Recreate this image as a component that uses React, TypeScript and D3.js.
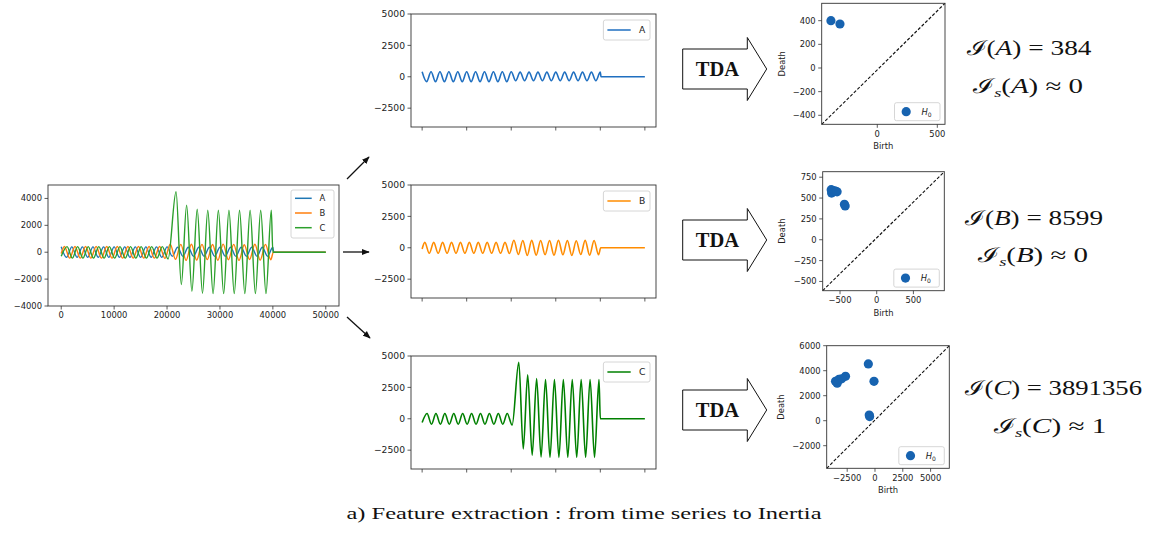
import React from 'react';
import * as d3 from 'd3';

// ---------- Data (extrema) ----------
const A_TIMES = [0, 1000, 2000, 3000, 4000, 5000, 6000, 7000, 8000, 9000, 10000, 11000, 12000, 13000, 14000, 15000, 16000, 17000, 18000, 19000, 20000, 21000, 22000, 23000, 24000, 25000, 26000, 27000, 28000, 29000, 30000, 31000, 32000, 33000, 34000, 35000, 36000, 37000, 38000, 39000, 40000, 40150, 50000];
const A_VALUES = [400, -386, 400, -386, 400, -386, 400, -386, 400, -386, 400, -386, 400, -386, 400, -386, 400, -386, 400, -386, 400, -311, 372, -311, 372, -311, 372, -311, 372, -311, 372, -311, 372, -311, 372, -311, 372, -311, 372, -311, 372, 0, 0];

const B_TIMES = [0, 600, 1600, 2600, 3600, 4600, 5600, 6600, 7600, 8600, 9600, 10600, 11600, 12600, 13600, 14600, 15600, 16600, 17600, 18600, 19600, 20600, 21600, 22600, 23600, 24600, 25600, 26600, 27600, 28600, 29600, 30600, 31600, 32600, 33600, 34600, 35600, 36600, 37600, 38600, 39600, 40100, 50000];
const B_VALUES = [-100, 430, -440, 430, -440, 430, -440, 430, -440, 430, -440, 430, -440, 430, -440, 430, -440, 430, -440, 430, -460, 600, -530, 580, -610, 590, -590, 585, -550, 575, -600, 600, -560, 580, -610, 555, -540, 590, -590, 580, -560, 0, 0];

const C_TIMES = [0, 1100, 2100, 3100, 4100, 5100, 6100, 7100, 8100, 9100, 10100, 11100, 12100, 13100, 14100, 15100, 16100, 17100, 18100, 19100, 20200, 21700, 22700, 23700, 24700, 25700, 26700, 27700, 28700, 29700, 30700, 31700, 32700, 33700, 34700, 35700, 36700, 37700, 38700, 39700, 40000, 50000];
const C_VALUES = [-300, 420, -440, 420, -440, 420, -440, 420, -440, 420, -440, 420, -440, 420, -440, 420, -440, 420, -440, 420, -500, 4500, -2400, 3500, -2900, 3200, -3050, 3120, -3080, 3120, -3080, 3120, -3080, 3120, -3080, 3120, -3080, 3120, -3080, 3120, 0, 0];

const SERIES_NAMES = ['A', 'B', 'C'];
const TS_X_TICKS = [0, 10000, 20000, 30000, 40000, 50000];
const LEFT_Y_TICKS = [-4000, -2000, 0, 2000, 4000];
const MID_Y_TICKS = [-2500, 0, 2500, 5000];
const TS_X_DOMAIN = [-2500, 52500];
const TS_Y_DOMAIN = [-4000, 5000];

// persistence diagrams (birth, death)
const PD_A_BIRTH = [-386, -311];
const PD_A_DEATH = [400, 372];
const PD_B_BIRTH = [-620, -615, -600, -575, -555, -540, -440, -430];
const PD_B_DEATH = [600, 560, 590, 585, 580, 575, 425, 405];
const PD_C_BIRTH = [-600, -90, -2650, -3550, -3400, -3250, -3000, -520, -480];
const PD_C_DEATH = [4540, 3150, 3550, 3150, 3000, 3300, 3350, 450, 330];

const PD_A_XDOM = [-463, 564];
const PD_A_YDOM = [-476, 547];
const PD_A_XTICKS = [0, 500];
const PD_A_YTICKS = [-400, -200, 0, 200, 400];
const PD_B_XDOM = [-736, 921];
const PD_B_YDOM = [-611, 816];
const PD_B_XTICKS = [-500, 0, 500];
const PD_B_YTICKS = [-500, -250, 0, 250, 500, 750];
const PD_C_XDOM = [-4343, 6682];
const PD_C_YDOM = [-3808, 6000];
const PD_C_XTICKS = [-2500, 0, 2500, 5000];
const PD_C_YTICKS = [-2000, 0, 2000, 4000, 6000];

const INERTIA = ['384', '8599', '3891356'];
const INERTIA_S = ['0', '0', '1'];

const SANS = '"DejaVu Sans", sans-serif';
const SERIF = '"Liberation Serif", "DejaVu Serif", serif';
const fmt = d3.format('d');

type S = { name: string; times: number[]; values: number[]; color: string };

function TimeAxes(props: any) {
  const { left, top, width, height, series, yTicks, xLabels, fs, legend, lw } = props;
  const x = d3.scaleLinear().domain(TS_X_DOMAIN).range([left, left + width]);
  const y = d3.scaleLinear().domain(TS_Y_DOMAIN).range([top + height, top]);
  const path = (s: S) =>
    d3.line<number>().x((_, i) => x(s.times[i])).y((d) => y(d)).curve(d3.curveMonotoneX)(s.values) || '';
  const lx = left + width - legend.inset - legend.w;
  const ly = top + legend.inset;
  return (
    <g fontFamily={SANS} fill="#222">
      {series.map((s: S) => (
        <path key={s.name} d={path(s)} fill="none" stroke={s.color} strokeWidth={lw} strokeLinejoin="round" />
      ))}
      <rect x={left} y={top} width={width} height={height} fill="none" stroke="#333" strokeWidth={0.9} />
      {yTicks.map((t: number) => (
        <g key={t}>
          <line x1={left - 3.5} x2={left} y1={y(t)} y2={y(t)} stroke="#333" strokeWidth={0.8} />
          <text x={left - 6} y={y(t)} dy="0.35em" textAnchor="end" fontSize={fs}>{fmt(t)}</text>
        </g>
      ))}
      {TS_X_TICKS.map((t) => (
        <g key={t}>
          <line x1={x(t)} x2={x(t)} y1={top + height} y2={top + height + 3.5} stroke="#333" strokeWidth={0.8} />
          {xLabels && (
            <text x={x(t)} y={top + height + 6 + fs * 0.76} textAnchor="middle" fontSize={fs}>{fmt(t)}</text>
          )}
        </g>
      ))}
      <rect x={lx} y={ly} width={legend.w} height={legend.h} rx={2} fill="white" fillOpacity={0.85} stroke="#ccc" strokeWidth={0.8} />
      {series.map((s: S, i: number) => {
        const ry = ly + legend.first + i * legend.row;
        return (
          <g key={s.name}>
            <line x1={lx + legend.l0} x2={lx + legend.l1} y1={ry} y2={ry} stroke={s.color} strokeWidth={1.5} />
            <text x={lx + legend.tx} y={ry} dy="0.35em" fontSize={fs}>{s.name}</text>
          </g>
        );
      })}
    </g>
  );
}

function PD(props: any) {
  const { left, top, width, height, xDom, yDom, xTicks, yTicks, births, deaths, deathX } = props;
  const x = d3.scaleLinear().domain(xDom).range([left, left + width]);
  const y = d3.scaleLinear().domain(yDom).range([top + height, top]);
  const fs = 8.4;
  const color = '#1763b0';
  const lw = 45.5, lh = 18;
  const lx = left + width - 5 - lw;
  const ly = top + height - 3.6 - lh;
  return (
    <g fontFamily={SANS} fill="#222">
      <line x1={x(xDom[0])} y1={y(yDom[0])} x2={x(xDom[1])} y2={y(yDom[1])} stroke="#111" strokeWidth={1.1} strokeDasharray="3.2,1.8" />
      {births.map((b: number, i: number) => (
        <circle key={i} cx={x(b)} cy={y(deaths[i])} r={4.6} fill={color} />
      ))}
      <rect x={left} y={top} width={width} height={height} fill="none" stroke="#333" strokeWidth={0.9} />
      {yTicks.map((t: number) => (
        <g key={t}>
          <line x1={left - 3.5} x2={left} y1={y(t)} y2={y(t)} stroke="#333" strokeWidth={0.8} />
          <text x={left - 6} y={y(t)} dy="0.35em" textAnchor="end" fontSize={fs}>{fmt(t)}</text>
        </g>
      ))}
      {xTicks.map((t: number) => (
        <g key={t}>
          <line x1={x(t)} x2={x(t)} y1={top + height} y2={top + height + 3.5} stroke="#333" strokeWidth={0.8} />
          <text x={x(t)} y={top + height + 6 + fs * 0.76} textAnchor="middle" fontSize={fs}>{fmt(t)}</text>
        </g>
      ))}
      <text x={left + width / 2} y={top + height + 25} textAnchor="middle" fontSize={fs}>Birth</text>
      <text transform={`translate(${deathX},${top + height / 2}) rotate(-90)`} textAnchor="middle" dy="0.35em" fontSize={fs}>Death</text>
      <rect x={lx} y={ly} width={lw} height={lh} rx={2} fill="white" fillOpacity={0.85} stroke="#ccc" strokeWidth={0.8} />
      <circle cx={lx + 11.7} cy={ly + lh / 2} r={4.6} fill={color} />
      <text x={lx + 27} y={ly + lh / 2} dy="0.35em" fontSize={fs} fontStyle="italic">
        H<tspan fontSize={6} fontStyle="normal" dy={2}>0</tspan>
      </text>
    </g>
  );
}

function TdaArrow({ cy }: { cy: number }) {
  const x0 = 682.7, x1 = 747.3, x2 = 766.7;
  const d = `M${x0},${cy - 20} H${x1} V${cy - 31.5} L${x2},${cy} L${x1},${cy + 31.5} V${cy + 20} H${x0} Z`;
  return (
    <g>
      <path d={d} fill="white" stroke="#111" strokeWidth={1} strokeLinejoin="miter" />
      <text x={717.5} y={cy + 7} textAnchor="middle" fontFamily={SERIF} fontWeight="bold" fontSize={20.5} fill="#111">TDA</text>
    </g>
  );
}

function Inertia({ name, cx1, cx2, y1, y2, w1, w2, val, sval }: any) {
  return (
    <g fontFamily={SERIF} fill="#111">
      <text x={cx1} y={y1} textAnchor="middle" fontSize={20.5} textLength={w1} lengthAdjust="spacingAndGlyphs">
        ℐ(<tspan fontStyle="italic">{name}</tspan>) = {val}
      </text>
      <text x={cx2} y={y2} textAnchor="middle" fontSize={20.5} textLength={w2} lengthAdjust="spacingAndGlyphs">
        ℐ<tspan fontStyle="italic" fontSize={13} dy={4}>s</tspan>
        <tspan dy={-4}>(</tspan><tspan fontStyle="italic">{name}</tspan>) ≈ {sval}
      </text>
    </g>
  );
}

export default function App() {
  const tab = ['#1f77b4', '#ff7f0e', '#2ca02c'];
  const mid = ['#1f6fc0', '#ff8c00', '#008000'];
  const allSeries: S[] = [
    { name: SERIES_NAMES[0], times: A_TIMES, values: A_VALUES, color: tab[0] },
    { name: SERIES_NAMES[1], times: B_TIMES, values: B_VALUES, color: tab[1] },
    { name: SERIES_NAMES[2], times: C_TIMES, values: C_VALUES, color: tab[2] },
  ];
  const midSeries: S[] = allSeries.map((s, i) => ({ ...s, color: mid[i] }));
  const leftLegend = { inset: 5, w: 43, h: 48, first: 8.3, row: 14.7, l0: 4, l1: 20.7, tx: 28.5 };
  const midLegend = { inset: 6, w: 46.6, h: 20, first: 10, row: 0, l0: 4, l1: 27.3, tx: 35.5 };
  const midTops = [14, 185, 356];
  const pdA = { xDom: PD_A_XDOM, yDom: PD_A_YDOM, xTicks: PD_A_XTICKS, yTicks: PD_A_YTICKS, births: PD_A_BIRTH, deaths: PD_A_DEATH };
  const pdB = { xDom: PD_B_XDOM, yDom: PD_B_YDOM, xTicks: PD_B_XTICKS, yTicks: PD_B_YTICKS, births: PD_B_BIRTH, deaths: PD_B_DEATH };
  const pdC = { xDom: PD_C_XDOM, yDom: PD_C_YDOM, xTicks: PD_C_XTICKS, yTicks: PD_C_YTICKS, births: PD_C_BIRTH, deaths: PD_C_DEATH };
  return (
    <svg width={1151} height={541} style={{ position: 'absolute', left: 0, top: 0, background: 'white' }}>
      <defs>
        <marker id="ah" viewBox="0 0 10 10" refX="9" refY="5" markerWidth="6" markerHeight="6" orient="auto">
          <path d="M0,1 L10,5 L0,9 Z" fill="#111" />
        </marker>
      </defs>
      <rect x={0} y={0} width={1151} height={541} fill="white" />
      <TimeAxes left={48} top={185} width={291} height={121} series={allSeries} yTicks={LEFT_Y_TICKS} xLabels fs={8.4} legend={leftLegend} lw={1.4} />
      {midSeries.map((s, i) => (
        <TimeAxes key={s.name} left={411} top={midTops[i]} width={245} height={113} series={[s]} yTicks={MID_Y_TICKS} xLabels={false} fs={9.2} legend={midLegend} lw={1.6} />
      ))}
      <line x1={347} y1={179} x2={369} y2={157} stroke="#111" strokeWidth={1.3} markerEnd="url(#ah)" />
      <line x1={343} y1={252} x2={369} y2={252} stroke="#111" strokeWidth={1.3} markerEnd="url(#ah)" />
      <line x1={347} y1={317} x2={370} y2={338} stroke="#111" strokeWidth={1.3} markerEnd="url(#ah)" />
      <TdaArrow cy={69} />
      <TdaArrow cy={240} />
      <TdaArrow cy={410} />
      <PD left={821.7} top={3.3} width={123.3} height={121} deathX={781.7} {...pdA} />
      <PD left={822.7} top={171.7} width={121.6} height={119} deathX={781.7} {...pdB} />
      <PD left={826.7} top={345.7} width={122.6} height={122.6} deathX={780.7} {...pdC} />
      <Inertia name="A" cx1={1029} cx2={1028} y1={55} y2={92.5} w1={125} w2={110} val={INERTIA[0]} sval={INERTIA_S[0]} />
      <Inertia name="B" cx1={1034} cx2={1033} y1={225} y2={262} w1={138} w2={110} val={INERTIA[1]} sval={INERTIA_S[1]} />
      <Inertia name="C" cx1={1053.5} cx2={1050} y1={395} y2={432.5} w1={177} w2={113} val={INERTIA[2]} sval={INERTIA_S[2]} />
      <text x={584} y={519} textAnchor="middle" fontFamily={SERIF} fontSize={17} fill="#111" textLength={475} lengthAdjust="spacingAndGlyphs">
        a) Feature extraction : from time series to Inertia
      </text>
    </svg>
  );
}
